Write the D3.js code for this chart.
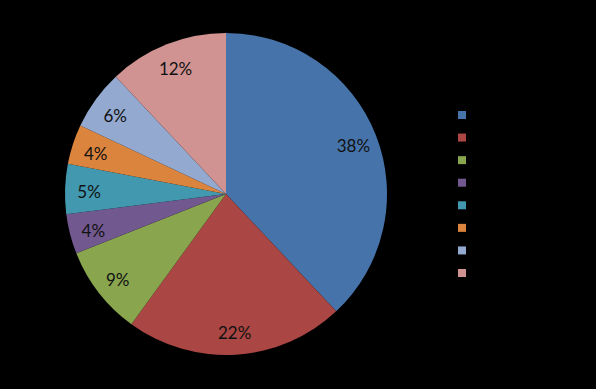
<!DOCTYPE html>
<html>
<head>
<meta charset="utf-8">
<script src="https://cdn.jsdelivr.net/npm/d3@7"></script>
<style>
  html, body { margin: 0; padding: 0; background: #000; }
  svg { display: block; }
</style>
</head>
<body>
<svg width="596" height="389"></svg>
<script>
// legend text in the source is black on black, names are not readable
var categories = ["1", "2", "3", "4", "5", "6", "7", "8"];
var values = [38, 22, 9, 4, 5, 4, 6, 12];
var colors = ["#4674aa", "#aa4643", "#89a54e", "#71588f", "#4198af", "#db843d", "#93a9cf", "#d19392"];

var svg = d3.select("svg");
var cx = 226, cy = 194, radius = 161;

var pie = d3.pie().sort(null).value(function(d) { return d; });
var arcs = pie(values);
var arc = d3.arc().innerRadius(0).outerRadius(radius);
var labelArc = d3.arc().innerRadius(137).outerRadius(137);

var g = svg.append("g").attr("transform", "translate(" + cx + "," + cy + ")");

g.selectAll("path").data(arcs).enter().append("path")
    .attr("d", arc)
    .attr("fill", function(d, i) { return colors[i]; });

g.selectAll("text").data(arcs).enter().append("text")
    .attr("transform", function(d) { return "translate(" + labelArc.centroid(d) + ")"; })
    .attr("text-anchor", "middle")
    .attr("dy", "0.5em")
    .attr("font-family", "Lato, 'Open Sans', sans-serif")
    .attr("font-size", 17)
    .attr("fill", "#111")
    .text(function(d) { return d.data + "%"; });

var legend = svg.append("g").attr("transform", "translate(458,111)");
var y = d3.scalePoint().domain(categories).range([0, 158]);

var item = legend.selectAll("g").data(categories).enter().append("g")
    .attr("transform", function(d) { return "translate(0," + y(d) + ")"; });
item.append("rect")
    .attr("width", 8).attr("height", 8)
    .attr("fill", function(d, i) { return colors[i]; });
item.append("text")
    .attr("x", 14).attr("y", 4).attr("dy", "0.35em")
    .attr("font-family", "Lato, sans-serif")
    .attr("font-size", 12)
    .attr("fill", "#000")
    .text(function(d) { return d; });
</script>
</body>
</html>
